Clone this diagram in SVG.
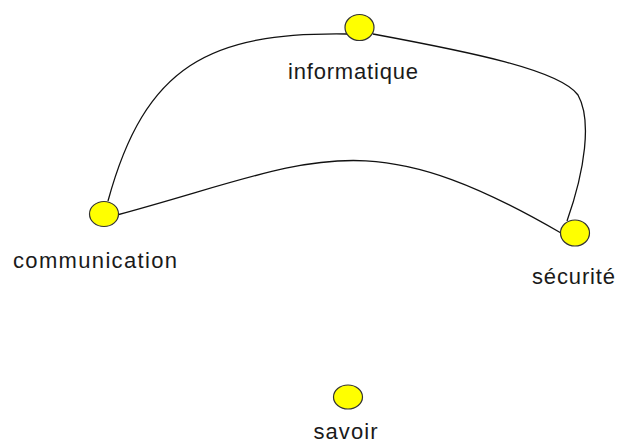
<svg xmlns="http://www.w3.org/2000/svg" width="617" height="443" viewBox="0 0 617 443">
  <style>
    .edge { fill: none; stroke: #111; stroke-width: 1.3; }
    .node { fill: #ffff00; stroke: #333; stroke-width: 1.2; }
    .label { font-family: "Liberation Sans", Arial, sans-serif; font-size: 22px; fill: #1a1a1a; text-anchor: middle; }
  </style>
  <rect width="617" height="443" fill="#ffffff"/>
  <g id="connectors">
    <path class="edge" d="M 347 34 C 210 32, 145 65, 108 201"/>
    <path class="edge" d="M 117 215 C 315 161.5, 363 118, 561 233"/>
    <path class="edge" d="M 373 34 C 470 52, 560 70, 578 95 C 592 120, 585 170, 567 221"/>
  </g>
  <g id="informatique">
    <ellipse class="node" cx="359.5" cy="27.5" rx="14.5" ry="13"/>
    <text class="label" x="353" y="79" textLength="130" lengthAdjust="spacing">informatique</text>
  </g>
  <g id="communication">
    <ellipse class="node" cx="104" cy="214" rx="14.5" ry="12.5"/>
    <text class="label" x="95" y="267.5" textLength="164" lengthAdjust="spacing">communication</text>
  </g>
  <g id="securite">
    <ellipse class="node" cx="575" cy="233" rx="14.5" ry="13"/>
    <text class="label" x="573.5" y="284" textLength="83" lengthAdjust="spacing">sécurité</text>
  </g>
  <g id="savoir">
    <ellipse class="node" cx="348" cy="397" rx="14.5" ry="12"/>
    <text class="label" x="345.5" y="439" textLength="64" lengthAdjust="spacing">savoir</text>
  </g>
</svg>
